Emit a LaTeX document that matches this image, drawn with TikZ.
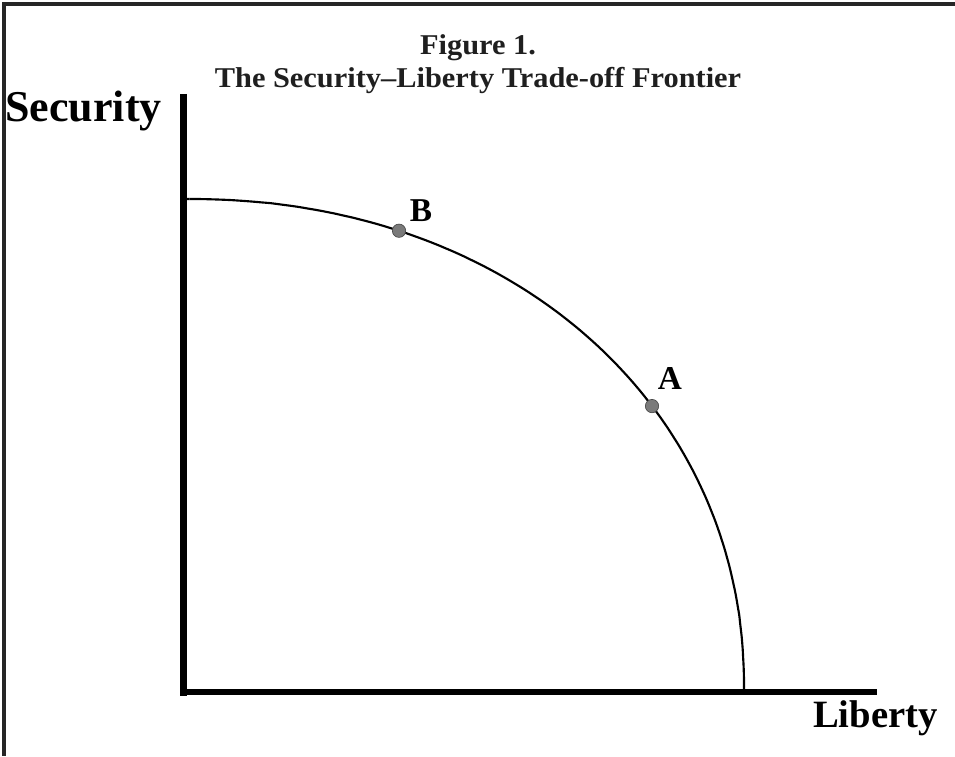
\documentclass[tikz,border=0pt]{standalone}
\usepackage{fontspec}
\setmainfont{Liberation Serif}
\newfontfamily\titlefont[FakeStretch=1.06]{Liberation Serif}
\newfontfamily\labelfont{Liberation Serif}
\definecolor{framecol}{HTML}{262626}
\definecolor{dotcol}{HTML}{7A7A7A}
\definecolor{dotline}{HTML}{4A4A4A}
\begin{document}
\begin{tikzpicture}[x=0.75pt,y=-0.75pt,
  titletext/.style={font=\titlefont\bfseries\fontsize{21.5}{24}\selectfont, inner sep=0pt, text=black!88},
  ylabel/.style={font=\labelfont\bfseries\fontsize{33}{36}\selectfont, inner sep=0pt},
  xlabel/.style={font=\labelfont\bfseries\fontsize{29}{32}\selectfont, inner sep=0pt},
  pointlabel/.style={font=\labelfont\bfseries\fontsize{25}{28}\selectfont, inner sep=0pt},
  pointdot/.style={circle, fill=dotcol, draw=dotline, line width=0.5pt, minimum size=10pt, inner sep=0pt},
  axisbar/.style={line width=5.2pt, black},
  frontier/.style={line width=1.6pt, black}]
\useasboundingbox (0,0) rectangle (955,756);
% frame (top and left)
\draw[framecol, line width=2.4pt] (2.5,4) -- (955,4);
\draw[framecol, line width=2.4pt] (4,2.5) -- (4,756);
% title
\node[titletext] (t1) at (478,48) {Figure 1.};
\node[titletext] (t2) at (478,81) {The Security–Liberty Trade-off Frontier};
% axes
\coordinate (ytop) at (183.5,94);
\coordinate (origin) at (183.5,692);
\coordinate (xend) at (877,692);
\draw[axisbar] (183.5,94) -- (183.5,695.5);
\draw[axisbar] (180,692) -- (877,692);
% frontier: superellipse
\draw[frontier] plot[domain=0.2:89.8, samples=120, smooth]
  ({187+557*pow(cos(\x),2/2.1)},{689-490*pow(sin(\x),2/2.1)});
\draw[frontier] (187,199) -- ({187+557*pow(cos(89.8),2/2.1)},{689-490*pow(sin(89.8),2/2.1)}) ;
\draw[frontier] (744,689) -- ({187+557*pow(cos(0.2),2/2.1)},{689-490*pow(sin(0.2),2/2.1)});
% points
\pgfmathsetmacro{\bx}{399}
\pgfmathsetmacro{\by}{689-490*pow(1-pow((399-187)/557,2.1),1/2.1)}
\pgfmathsetmacro{\ax}{652}
\pgfmathsetmacro{\ay}{689-490*pow(1-pow((652-187)/557,2.1),1/2.1)}
\node[pointdot] (B) at (\bx,\by) {};
\node[pointdot] (A) at (\ax,\ay) {};
\node[pointlabel] (Blab) at (421,211) {B};
\node[pointlabel] (Alab) at (670,378) {A};
% axis labels
\node[ylabel, anchor=west] (ylab) at (5,111) {Security};
\node[xlabel, anchor=east] (xlab) at (938,718) {Liberty};
\end{tikzpicture}
\end{document}
